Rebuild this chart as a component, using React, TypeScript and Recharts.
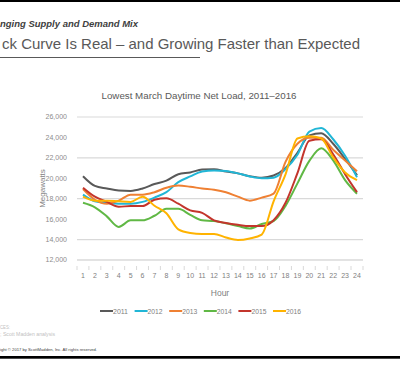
import React from 'react';
import { LineChart, Line, XAxis, YAxis, CartesianGrid, Legend, Label } from 'recharts';

const hours = ['1','2','3','4','5','6','7','8','9','10','11','12','13','14','15','16','17','18','19','20','21','22','23','24'];
const yTicks = [12000, 14000, 16000, 18000, 20000, 22000, 24000, 26000];

const s2011 = [20200,19250,19000,18800,18760,19000,19440,19770,20400,20570,20860,20890,20660,20480,20210,20060,20270,21000,22500,24200,24420,23380,21900,20300];
const s2012 = [18400,17750,17600,17510,17510,17690,18110,18640,19620,20180,20660,20770,20710,20480,20180,20000,20060,20900,22300,24570,24920,23820,22200,20100];
const s2013 = [18950,17900,17500,17810,18400,18400,18640,19080,19290,19170,19000,18880,18640,18200,17810,18110,18500,21600,23380,23970,23970,22790,21750,20700];
const s2014 = [17600,17160,16270,15240,15880,15880,16330,17010,17010,16420,15880,15820,15590,15320,15080,15530,15820,17300,19500,21700,22940,21750,19820,18490];
const s2015 = [19080,18200,17690,17220,17280,17280,17900,18040,17510,16860,16620,15880,15620,15440,15320,15320,15900,17600,20500,23680,23820,22340,20400,18640];
const s2016 = [18200,17810,17810,17750,17690,18200,17310,16570,15000,14640,14550,14550,14200,13960,14110,14490,17750,20390,23900,24120,23900,22050,20570,19820];

const seriesNames = ['2011', '2012', '2013', '2014', '2015', '2016'];
const seriesValues = [s2011, s2012, s2013, s2014, s2015, s2016];
const seriesColors = ['#595959', '#21b6d6', '#ef8033', '#60b845', '#c3352c', '#ffb300'];

const data = hours.map((h, i) => {
  const row: Record<string, string | number> = { hour: h };
  seriesNames.forEach((n, k) => { row[n] = seriesValues[k][i]; });
  return row;
});

const FONT = '"Liberation Sans", Arial, sans-serif';

const fmt = (v: number) => v.toLocaleString('en-US');

const XTick = (props: any) => {
  const { x, y, payload, index } = props;
  const half = 6;
  const axisY = y - 2;
  return (
    <g>
      <line x1={x - half} x2={x - half} y1={axisY} y2={axisY + 4} stroke="#d9d9d9" />
      {index === hours.length - 1 && (
        <line x1={x + half} x2={x + half} y1={axisY} y2={axisY + 4} stroke="#d9d9d9" />
      )}
      <text x={x} y={y + 10} textAnchor="middle" fontSize={7} fill="#808080" fontFamily={FONT}>
        {payload.value}
      </text>
    </g>
  );
};

const renderLegend = () => (
  <svg width={400} height={14}>
    {seriesNames.map((n, i) => {
      const x0 = 100 + i * 34.6;
      return (
        <g key={n}>
          <line x1={x0} x2={x0 + 13} y1={7} y2={7} stroke={seriesColors[i]} strokeWidth={2} />
          <text x={x0 + 13} y={9.5} fontSize={6.5} fill="#808080" fontFamily={FONT} textLength={15} lengthAdjust="spacingAndGlyphs">
            {n}
          </text>
        </g>
      );
    })}
  </svg>
);

export default function App() {
  return (
    <div style={{ position: 'absolute', left: 0, top: 0, width: 400, height: 378, background: '#fff', overflow: 'hidden', fontFamily: FONT }}>
      <div style={{ position: 'absolute', left: 0, top: 0 }}>
        <LineChart width={400} height={378} data={data} margin={{ top: 117, right: 37, bottom: 84, left: 17 }}>
          <CartesianGrid vertical={false} stroke="#d9d9d9" strokeWidth={1.2} />
          <XAxis
            dataKey="hour"
            stroke="#d9d9d9"
            tickLine={false}
            tick={<XTick />}
            interval={0}
            padding={{ left: 6, right: 6 }}
            height={20}
          >
            <Label value="Hour" position="insideBottom" offset={-16} fontSize={8.5} fill="#808080" fontFamily={FONT} />
          </XAxis>
          <YAxis
            domain={[12000, 26000]}
            ticks={yTicks}
            tickFormatter={fmt}
            axisLine={false}
            tickLine={false}
            width={60}
            tickMargin={4}
            tick={{ fontSize: 7, fill: '#8c8c8c', fontFamily: FONT }}
          >
            <Label value="Megawatts" angle={-90} position="insideLeft" offset={25} fontSize={8} fill="#808080" fontFamily={FONT} style={{ textAnchor: 'middle' }} />
          </YAxis>
          <Legend content={renderLegend} wrapperStyle={{ position: 'absolute', left: 0, top: 303.5, width: 400, height: 14 }} />
          {seriesNames.map((n, i) => (
            <Line
              key={n}
              dataKey={n}
              name={n}
              type="monotone"
              stroke={seriesColors[i]}
              strokeWidth={2}
              dot={false}
              isAnimationActive={false}
            />
          ))}
        </LineChart>
      </div>
      <svg width={400} height={378} style={{ position: 'absolute', left: 0, top: 0, pointerEvents: 'none' }}>
        <rect x={0} y={0} width={400} height={2} fill="#000" />
        <text x={0} y={26.5} fontSize={9} fontWeight="bold" fontStyle="italic" fill="#404040" fontFamily={FONT} textLength={138} lengthAdjust="spacingAndGlyphs">
          nging Supply and Demand Mix
        </text>
        <text x={2} y={48.5} fontSize={14.5} fill="#595959" fontFamily={FONT} textLength={358} lengthAdjust="spacingAndGlyphs">
          ck Curve Is Real – and Growing Faster than Expected
        </text>
        <line x1={0} x2={200} y1={57.5} y2={57.5} stroke="#595959" strokeWidth={1} />
        <text x={199} y={98.5} textAnchor="middle" fontSize={8.5} fill="#595959" fontFamily={FONT} textLength={195} lengthAdjust="spacingAndGlyphs">
          Lowest March Daytime Net Load, 2011–2016
        </text>
        <text x={0} y={329} fontSize={4.5} fill="#bfbfbf" fontFamily={FONT} textLength={10} lengthAdjust="spacingAndGlyphs">CES:</text>
        <text x={0} y={335.5} fontSize={4.5} fill="#bfbfbf" fontFamily={FONT} textLength={55} lengthAdjust="spacingAndGlyphs">; Scott Madden analysis</text>
        <text x={0} y={350.5} fontSize={4} fill="#404040" fontFamily={FONT} textLength={97} lengthAdjust="spacingAndGlyphs">ight © 2017 by ScottMadden, Inc. All rights reserved.</text>
        <rect x={0} y={356} width={400} height={2.7} fill="#000" />
      </svg>
    </div>
  );
}
